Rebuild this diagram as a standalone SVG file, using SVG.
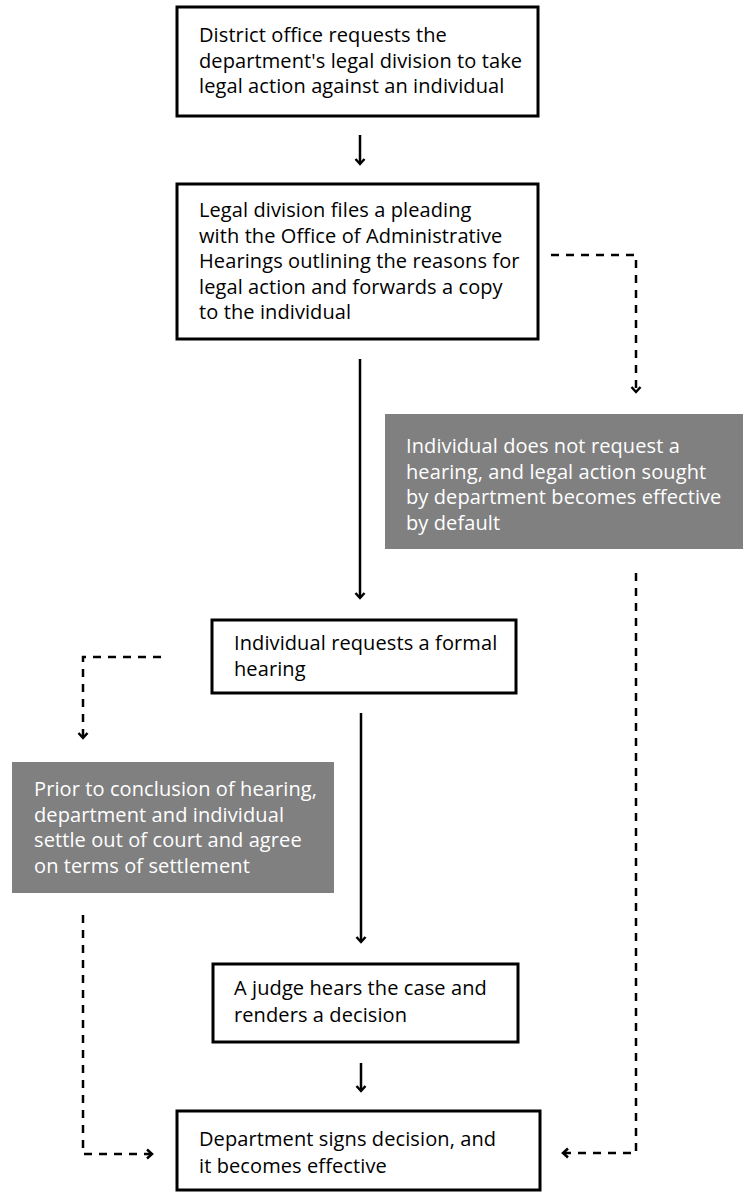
<svg xmlns="http://www.w3.org/2000/svg" width="743" height="1192" viewBox="0 0 743 1192">
<style>
.box{fill:#fff;stroke:#000;stroke-width:3}
.gray{fill:#808080;stroke:none}
.t{font-family:"Open Sans","Noto Sans","DejaVu Sans",sans-serif;font-size:20px;letter-spacing:0.1px;fill:#000}
.tw{font-family:"Open Sans","Noto Sans","DejaVu Sans",sans-serif;font-size:20px;letter-spacing:0.1px;fill:#fff}
.solid{fill:none;stroke:#000;stroke-width:2.5}
.dash{fill:none;stroke:#000;stroke-width:2.5;stroke-dasharray:8 7}
</style>
<defs>
<marker id="ah" markerUnits="userSpaceOnUse" viewBox="-8 -7 10 14" markerWidth="10" markerHeight="14" refX="0" refY="0" orient="auto">
<path d="M-5,-4.5 L0,0 L-5,4.5" fill="none" stroke="#000" stroke-width="2.5"/>
</marker>
</defs>
<g id="connectors">
<line class="solid" x1="360" y1="135" x2="360" y2="164" marker-end="url(#ah)"/>
<line class="solid" x1="360" y1="359" x2="360" y2="598" marker-end="url(#ah)"/>
<line class="solid" x1="361" y1="713" x2="361" y2="942" marker-end="url(#ah)"/>
<line class="solid" x1="361" y1="1063" x2="361" y2="1091" marker-end="url(#ah)"/>
<polyline class="dash" points="551,255 636,255 636,392" marker-end="url(#ah)"/>
<polyline class="dash" points="636,573 636,1153 563,1153" marker-end="url(#ah)"/>
<polyline class="dash" points="161,657 83,657 83,738" marker-end="url(#ah)"/>
<polyline class="dash" points="83,915 83,1154 152,1154" marker-end="url(#ah)"/>
</g>
<g id="n1">
<rect class="box" x="177" y="7" width="361" height="109"/>
<text class="t" x="199" y="42">District office requests the</text>
<text class="t" x="199" y="67.5">department's legal division to take</text>
<text class="t" x="199" y="93">legal action against an individual</text>
</g>
<g id="n2">
<rect class="box" x="177" y="184" width="361" height="155"/>
<text class="t" x="199" y="217">Legal division files a pleading</text>
<text class="t" x="199" y="242.5">with the Office of Administrative</text>
<text class="t" x="199" y="268">Hearings outlining the reasons for</text>
<text class="t" x="199" y="293.5">legal action and forwards a copy</text>
<text class="t" x="199" y="319">to the individual</text>
</g>
<g id="n3">
<rect class="gray" x="385" y="414" width="358" height="135"/>
<text class="tw" x="406" y="453">Individual does not request a</text>
<text class="tw" x="406" y="478.5">hearing, and legal action sought</text>
<text class="tw" x="406" y="504">by department becomes effective</text>
<text class="tw" x="406" y="529.5">by default</text>
</g>
<g id="n4">
<rect class="box" x="212" y="620" width="304" height="73"/>
<text class="t" x="234" y="650">Individual requests a formal</text>
<text class="t" x="234" y="676">hearing</text>
</g>
<g id="n5">
<rect class="gray" x="12" y="762" width="322" height="131"/>
<text class="tw" x="34" y="796">Prior to conclusion of hearing,</text>
<text class="tw" x="34" y="821.5">department and individual</text>
<text class="tw" x="34" y="847">settle out of court and agree</text>
<text class="tw" x="34" y="872.5">on terms of settlement</text>
</g>
<g id="n6">
<rect class="box" x="213" y="964" width="305" height="78"/>
<text class="t" x="234" y="995">A judge hears the case and</text>
<text class="t" x="234" y="1022">renders a decision</text>
</g>
<g id="n7">
<rect class="box" x="177" y="1111" width="363" height="79"/>
<text class="t" x="199" y="1146">Department signs decision, and</text>
<text class="t" x="199" y="1173">it becomes effective</text>
</g>
</svg>
